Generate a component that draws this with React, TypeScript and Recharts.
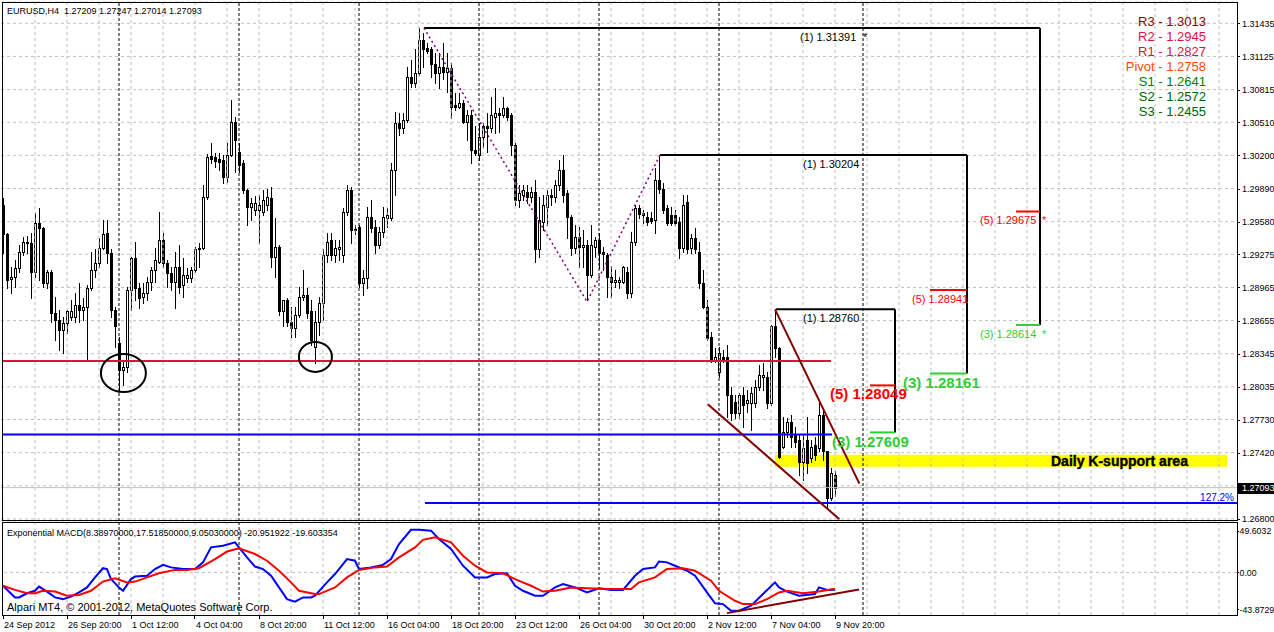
import React from "react";
import {
  ComposedChart,
  Bar,
  Line,
  XAxis,
  YAxis,
  CartesianGrid,
  ReferenceLine,
  ReferenceArea,
  ReferenceDot,
} from "recharts";

const FONT = '"Liberation Sans", Arial, Helvetica, sans-serif';

// EURUSD H4 candles, [open, high, low, close], one block per trading week
const WEEK_1 = [
  [1.2974, 1.298, 1.2929, 1.2946], [1.2946, 1.2947, 1.2896, 1.2903], [1.2904, 1.2916, 1.2891, 1.2906],
  [1.2906, 1.2922, 1.2897, 1.2915], [1.2915, 1.2936, 1.2911, 1.293], [1.293, 1.2944, 1.2927, 1.2939],
  [1.2939, 1.2945, 1.2929, 1.2938], [1.2938, 1.2947, 1.2887, 1.2911], [1.2911, 1.2966, 1.2906, 1.2957],
  [1.2957, 1.2971, 1.2903, 1.2952], [1.2952, 1.2953, 1.2897, 1.2901], [1.2901, 1.2913, 1.2896, 1.2911],
  [1.2911, 1.2913, 1.2864, 1.2873], [1.2873, 1.2888, 1.2847, 1.2866], [1.2866, 1.2875, 1.2838, 1.2857],
  [1.2857, 1.2869, 1.2835, 1.2863], [1.2863, 1.2875, 1.2854, 1.2874], [1.2869, 1.2885, 1.2866, 1.2874],
  [1.2869, 1.2891, 1.2864, 1.288], [1.288, 1.2901, 1.2864, 1.2875], [1.2875, 1.2887, 1.2866, 1.2878],
  [1.2878, 1.2899, 1.2828, 1.2896], [1.2896, 1.293, 1.2894, 1.2913], [1.2913, 1.2932, 1.2906, 1.2919],
  [1.2919, 1.2943, 1.2916, 1.2933], [1.2933, 1.296, 1.2932, 1.2946], [1.2947, 1.296, 1.2919, 1.2929],
  [1.2929, 1.2932, 1.2869, 1.2875], [1.2875, 1.2878, 1.2841, 1.286],
];
const WEEK_2 = [
  [1.2845, 1.285, 1.2801, 1.2819], [1.2819, 1.2829, 1.2805, 1.2822], [1.2822, 1.2897, 1.2817, 1.2894],
  [1.2894, 1.2925, 1.2875, 1.2924], [1.2924, 1.2939, 1.2885, 1.2896], [1.2896, 1.2901, 1.2877, 1.2887],
  [1.2888, 1.2901, 1.2882, 1.2891], [1.2891, 1.2906, 1.2885, 1.2902], [1.2902, 1.2916, 1.2894, 1.2913],
  [1.2913, 1.2933, 1.2902, 1.2922], [1.292, 1.2967, 1.2919, 1.2941], [1.2941, 1.2947, 1.2916, 1.2919],
  [1.2919, 1.2922, 1.2897, 1.291], [1.291, 1.2916, 1.2894, 1.2902], [1.2902, 1.293, 1.2877, 1.2916],
  [1.2916, 1.2936, 1.2891, 1.2897], [1.2899, 1.2924, 1.2888, 1.2908], [1.2905, 1.2915, 1.2902, 1.2908],
  [1.2905, 1.2916, 1.2902, 1.2913], [1.2913, 1.2934, 1.2911, 1.2932], [1.2932, 1.2938, 1.2916, 1.2933],
  [1.2933, 1.2992, 1.2932, 1.2981], [1.2981, 1.3021, 1.2979, 1.3018], [1.3019, 1.3032, 1.3013, 1.3017],
  [1.3018, 1.3022, 1.3009, 1.3015], [1.3017, 1.3022, 1.3006, 1.3014], [1.3016, 1.302, 1.2994, 1.3],
  [1.3, 1.3032, 1.2995, 1.302], [1.302, 1.3072, 1.3019, 1.3051], [1.3051, 1.3056, 1.3004, 1.3034],
];
const WEEK_3 = [
  [1.3023, 1.3032, 1.3004, 1.3011], [1.3013, 1.3016, 1.2985, 1.2988], [1.2988, 1.2989, 1.2955, 1.2972],
  [1.2972, 1.298, 1.296, 1.2975], [1.2969, 1.2982, 1.2964, 1.2975], [1.2969, 1.2983, 1.2938, 1.2974],
  [1.2967, 1.2988, 1.2964, 1.2978], [1.2974, 1.2989, 1.2969, 1.2981], [1.298, 1.299, 1.2916, 1.2925],
  [1.2925, 1.2961, 1.2906, 1.2934], [1.2934, 1.2936, 1.2871, 1.2874], [1.2874, 1.2885, 1.286, 1.2885],
  [1.2885, 1.2887, 1.286, 1.2864], [1.2864, 1.2878, 1.285, 1.2859], [1.2859, 1.2878, 1.285, 1.2871],
  [1.2871, 1.2897, 1.2869, 1.2888], [1.2888, 1.2913, 1.2885, 1.2889], [1.2889, 1.2896, 1.2868, 1.2873],
  [1.2874, 1.2885, 1.2843, 1.2847], [1.2841, 1.2874, 1.2826, 1.2864], [1.2864, 1.2888, 1.2852, 1.2882],
  [1.2882, 1.2932, 1.2866, 1.2927], [1.2927, 1.2947, 1.292, 1.2939], [1.2941, 1.2947, 1.2922, 1.2927],
  [1.2927, 1.2941, 1.292, 1.2933], [1.2932, 1.2941, 1.2922, 1.2934], [1.2927, 1.2971, 1.292, 1.2967],
  [1.2967, 1.2992, 1.2964, 1.2988], [1.2988, 1.299, 1.2938, 1.295], [1.2951, 1.2955, 1.2946, 1.295],
];
const WEEK_4 = [
  [1.2953, 1.2955, 1.2897, 1.2901], [1.2901, 1.2913, 1.2889, 1.2905], [1.2905, 1.2972, 1.2896, 1.2962],
  [1.2962, 1.2978, 1.2948, 1.2952], [1.2953, 1.296, 1.2929, 1.2936], [1.2936, 1.2953, 1.2933, 1.2948],
  [1.2948, 1.2972, 1.2944, 1.2962], [1.2961, 1.2971, 1.2953, 1.2964], [1.2961, 1.3013, 1.296, 1.3006],
  [1.3006, 1.3061, 1.2983, 1.305], [1.305, 1.306, 1.3039, 1.3046], [1.3046, 1.306, 1.3041, 1.3053],
  [1.3053, 1.3103, 1.3051, 1.3093], [1.3093, 1.3109, 1.3084, 1.3088], [1.3088, 1.3119, 1.3084, 1.3097],
  [1.3097, 1.3139, 1.3095, 1.3128], [1.3128, 1.3134, 1.3103, 1.3119], [1.312, 1.3125, 1.3116, 1.3118],
  [1.3119, 1.3121, 1.3093, 1.3105], [1.3105, 1.3116, 1.3088, 1.3097], [1.3097, 1.3116, 1.3083, 1.3103],
  [1.3103, 1.3125, 1.3091, 1.3098], [1.3098, 1.3116, 1.3079, 1.3102], [1.3102, 1.3106, 1.3055, 1.3065],
  [1.3067, 1.3078, 1.3062, 1.3065], [1.3065, 1.3078, 1.3064, 1.3069], [1.3069, 1.3072, 1.305, 1.3051],
  [1.3051, 1.3062, 1.3034, 1.3058], [1.3058, 1.3062, 1.3013, 1.3025], [1.3025, 1.3047, 1.302, 1.3022],
];
const WEEK_5 = [
  [1.302, 1.305, 1.3016, 1.3037], [1.3037, 1.305, 1.3028, 1.3047], [1.3047, 1.306, 1.3023, 1.3046],
  [1.3046, 1.3075, 1.3042, 1.3058], [1.3056, 1.3083, 1.3041, 1.306], [1.306, 1.3064, 1.3042, 1.3058],
  [1.3058, 1.3075, 1.3056, 1.3064], [1.3064, 1.3065, 1.3053, 1.3056], [1.3058, 1.306, 1.302, 1.303],
  [1.303, 1.3032, 1.2974, 1.2978], [1.2978, 1.2992, 1.2972, 1.2985], [1.2983, 1.2992, 1.2978, 1.2988],
  [1.2986, 1.2992, 1.2975, 1.2981], [1.2981, 1.299, 1.2976, 1.2986], [1.2986, 1.2997, 1.292, 1.2932],
  [1.2932, 1.2981, 1.2925, 1.296], [1.2958, 1.2983, 1.295, 1.2974], [1.2972, 1.2988, 1.2955, 1.2983],
  [1.2983, 1.2989, 1.2974, 1.2981], [1.2981, 1.2997, 1.2976, 1.2992], [1.2992, 1.3016, 1.2988, 1.3006],
  [1.3006, 1.302, 1.2976, 1.2983], [1.2985, 1.2988, 1.2943, 1.2962], [1.2962, 1.2964, 1.2927, 1.2933],
  [1.2933, 1.2955, 1.2929, 1.2944], [1.2944, 1.2953, 1.2916, 1.2934], [1.2934, 1.295, 1.2916, 1.2936],
  [1.2936, 1.2941, 1.2885, 1.2908], [1.2908, 1.2955, 1.2906, 1.2936], [1.2934, 1.2944, 1.2925, 1.2941],
];
const WEEK_6 = [
  [1.2941, 1.2947, 1.2915, 1.2929], [1.293, 1.2934, 1.2913, 1.2928], [1.2927, 1.2929, 1.2888, 1.2906],
  [1.2906, 1.2917, 1.2888, 1.2902], [1.2902, 1.2913, 1.2897, 1.2903], [1.2902, 1.2906, 1.2896, 1.2903],
  [1.2902, 1.2917, 1.2901, 1.2916], [1.2911, 1.2916, 1.2887, 1.2891], [1.2891, 1.2948, 1.2888, 1.2939],
  [1.2939, 1.2974, 1.2936, 1.2971], [1.2971, 1.2974, 1.2961, 1.2965], [1.2966, 1.2969, 1.2957, 1.2964],
  [1.2962, 1.2967, 1.2955, 1.2958], [1.2961, 1.2967, 1.2957, 1.2959], [1.296, 1.3008, 1.2947, 1.2997],
  [1.2997, 1.302, 1.2985, 1.2989], [1.2989, 1.2994, 1.2966, 1.2969], [1.2971, 1.2974, 1.2955, 1.2957],
  [1.2964, 1.2972, 1.2955, 1.2957], [1.2964, 1.2969, 1.2955, 1.2957], [1.2958, 1.2962, 1.2924, 1.2933],
  [1.2933, 1.2983, 1.293, 1.2974], [1.2976, 1.2983, 1.2929, 1.2932], [1.2933, 1.2946, 1.2929, 1.2943],
  [1.2943, 1.2952, 1.2929, 1.2932], [1.293, 1.2939, 1.2896, 1.2901], [1.2901, 1.2913, 1.2877, 1.2878],
  [1.2878, 1.2885, 1.2847, 1.2849], [1.285, 1.2855, 1.2827, 1.2829], [1.2829, 1.284, 1.2827, 1.2831],
];
const WEEK_7 = [
  [1.2817, 1.2841, 1.2813, 1.2835], [1.2831, 1.2838, 1.2827, 1.2829], [1.2831, 1.2843, 1.2775, 1.2796],
  [1.2796, 1.2803, 1.2773, 1.2779], [1.2789, 1.2796, 1.2774, 1.2779], [1.2779, 1.2798, 1.2774, 1.2796],
  [1.2796, 1.2803, 1.2766, 1.2787], [1.2788, 1.2801, 1.278, 1.2791], [1.2788, 1.2803, 1.2763, 1.2798],
  [1.2788, 1.281, 1.2785, 1.2803], [1.2803, 1.2824, 1.2801, 1.2815], [1.2813, 1.2826, 1.2801, 1.2815],
  [1.2813, 1.2817, 1.2784, 1.2788], [1.2788, 1.2861, 1.2787, 1.286], [1.286, 1.2876, 1.2831, 1.284],
  [1.284, 1.2841, 1.2737, 1.2738], [1.2747, 1.2775, 1.2746, 1.2761], [1.2761, 1.2774, 1.2757, 1.2771],
  [1.2771, 1.2777, 1.2747, 1.2757], [1.2759, 1.2766, 1.2747, 1.2752], [1.2754, 1.2759, 1.2721, 1.2733],
  [1.2733, 1.2759, 1.2716, 1.2746], [1.2754, 1.2775, 1.2723, 1.2732], [1.2737, 1.2754, 1.2733, 1.2747],
  [1.2749, 1.2757, 1.2735, 1.274], [1.2746, 1.2789, 1.2744, 1.2777], [1.2777, 1.2784, 1.2735, 1.2744],
  [1.2744, 1.2744, 1.269, 1.27], [1.27, 1.2728, 1.2698, 1.2723], [1.27209, 1.27247, 1.27014, 1.27093],
];
const CANDLES = [...WEEK_1, ...WEEK_2, ...WEEK_3, ...WEEK_4, ...WEEK_5, ...WEEK_6, ...WEEK_7];
const SLOTS = 309; // bar slots across the panel, the rest is empty future space

const PRICE_TICKS = [
  1.31435, 1.31125, 1.30815, 1.3051, 1.302, 1.2989, 1.2958, 1.29275, 1.28965, 1.28655, 1.28345,
  1.28035, 1.2773, 1.2742, 1.2711, 1.268,
];
const HIDDEN_TICK = 1.2711; // sits under the bid label
const BID = 1.27093;
const TITLE = "EURUSD,H4  1.27209 1.27247 1.27014 1.27093";

const TIME_TICKS = [0, 16, 32, 48, 64, 80, 96, 112, 128, 144, 160, 176, 192, 208];
const TIME_LABELS = [
  "24 Sep 2012", "26 Sep 20:00", "1 Oct 12:00", "4 Oct 04:00", "8 Oct 20:00", "11 Oct 12:00",
  "16 Oct 04:00", "18 Oct 20:00", "23 Oct 12:00", "26 Oct 04:00", "30 Oct 20:00", "2 Nov 12:00",
  "7 Nov 04:00", "9 Nov 20:00",
];
const WEEK_BREAKS = [29, 59, 89, 119, 149, 179, 215];

// horizontal support lines [from bar, to bar, price]
const RED_LEVEL = [0, 207, 1.28277];
const BLUE_LEVEL = [0, 207.25, 1.2759];
const EXT_LEVEL = [105.5, 308.5, 1.2695];
const K_AREA = [193, 306, 1.27288, 1.274];

// fibo expansions: start bar, end bar, (1), (3), (5) levels, start bar of the short ticks
const EXPANSIONS = [
  [105.25, 259.25, 1.31391, 1.28614, 1.29675, 253.25],
  [164.25, 241, 1.30204, 1.28161, 1.28941, 231.75],
  [193.25, 223, 1.2876, 1.27609, 1.28049, 216.75],
];
const ZIGZAG = [
  { i: 105.25, p: 1.31391 },
  { i: 146, p: 1.28832 },
  { i: 164.25, p: 1.30204 },
];
const WEDGE_TOP = [[193, 1.2876], [214.1, 1.2713]];
const WEDGE_BOTTOM = [[176.2, 1.27873], [209.1, 1.26797]];
const CIRCLED_LOWS = [[30.1, 1.28165], [78.1, 1.28315]];

const NOTES = [
  { i: 199.25, p: 1.31391, text: "(1) 1.31391", kind: "black" },
  { i: 215, p: 1.31391, text: "*", kind: "black" },
  { i: 200, p: 1.30204, text: "(1) 1.30204", kind: "black" },
  { i: 200, p: 1.2876, text: "(1) 1.28760", kind: "black" },
  { i: 244.25, p: 1.29675, text: "(5) 1.29675", kind: "red" },
  { i: 259.75, p: 1.29675, text: "*", kind: "red" },
  { i: 244.25, p: 1.28614, text: "(3) 1.28614", kind: "green" },
  { i: 259.75, p: 1.28614, text: "*", kind: "green" },
  { i: 227.25, p: 1.28941, text: "(5) 1.28941", kind: "red" },
  { i: 225, p: 1.28161, text: "(3) 1.28161", kind: "greenBold" },
  { i: 206.75, p: 1.28049, text: "(5) 1.28049", kind: "redBold" },
  { i: 207.25, p: 1.27609, text: "(3) 1.27609", kind: "greenBold" },
];
const NOTE_STYLE: Record<string, any> = {
  black: { fill: "#000000", size: 11, weight: 400, dy: 13 },
  red: { fill: "#ff0000", size: 11, weight: 400, dy: 12.5 },
  green: { fill: "#32cd32", size: 11, weight: 400, dy: 13 },
  redBold: { fill: "#ff0000", size: 15, weight: 700, dy: 14 },
  greenBold: { fill: "#32cd32", size: 15, weight: 700, dy: 14.5 },
};

const PIVOTS = ["R3 - 1.3013", "R2 - 1.2945", "R1 - 1.2827", "Pivot - 1.2758", "S1 - 1.2641", "S2 - 1.2572", "S3 - 1.2455"];
const PIVOT_COLORS = ["#8b0000", "#dc143c", "#dc143c", "#ff4500", "#008000", "#006400", "#006400"];

// MACD(8.3897, 17.5185, 9.0503): [bar, value]
const MACD_MAIN = [
  [0, -16], [3, -30], [4, -30], [6, -25], [8, -22], [9, -17], [11, -23], [13, -30], [15, -32], [17, -29],
  [19, -24], [21, -18], [23, -6], [25, 5], [26, 4], [27, -8], [29, -18], [30, -22], [32, -8], [33, -5],
  [36, -4], [38, 4], [40, 9], [42, 6], [45, 4], [48, 4], [50, 12], [52, 30], [55, 32], [58, 36], [59, 30],
  [61, 18], [63, 7], [65, 4], [67, -4], [69, -18], [71, -32], [73, -35], [75, -30], [77, -30], [78, -28],
  [81, -12], [83, -2], [84, 4], [86, 16], [88, 14], [89, 4], [92, 6], [95, 9], [97, 16], [99, 34],
  [102, 51], [104, 51], [107, 50], [109, 40], [112, 28], [115, 8], [118, -6], [121, -6], [123, -2],
  [126, -1], [128, -16], [130, -22], [133, -28], [135, -28], [138, -18], [140, -14], [143, -18],
  [146, -24], [149, -19], [152, -21], [155, -21], [158, -4], [160, 4], [163, 6], [164, 13], [166, 12],
  [168, 8], [171, 2], [173, -4], [176, -24], [178, -37], [180, -38], [182, -46], [184, -46], [187, -40],
  [190, -26], [193, -12], [194, -18], [196, -23], [199, -28], [203, -26], [204, -18], [206, -21],
  [208, -20.95],
];
const MACD_SIGNAL = [
  [0, -16], [3, -21], [6, -25], [8, -25], [10, -22], [13, -23], [16, -28], [19, -27], [22, -22], [25, -11],
  [28, -7], [31, -12], [33, -11], [36, -6], [39, -1], [43, 3], [46, 3], [49, 5], [53, 16], [56, 25],
  [59, 29], [63, 22], [66, 14], [69, 2], [72, -12], [74, -22], [78, -26], [79, -26], [83, -18], [86, -6],
  [89, 3], [93, 6], [96, 7], [99, 18], [103, 30], [105, 39], [108, 42], [112, 36], [115, 20], [118, 8],
  [121, 0], [125, -1], [128, -8], [132, -16], [135, -23], [138, -22], [142, -18], [146, -19], [151, -20],
  [157, -20], [159, -12], [163, -6], [166, 4], [170, 5], [173, 2], [177, -10], [179, -22], [183, -34],
  [185, -38], [188, -38], [191, -32], [194, -24], [196, -22], [200, -25], [204, -23], [208, -19.6],
];
const MACD_TREND = [[181, -48.8], [214, -20.5]];
const MACD_TICKS = [49.6032, 0, -43.8729];
const MACD_TICK_LABELS = ["49.6032", "0.00", "-43.8729"];
const MACD_TITLE = "Exponential MACD(8.38970000,17.51850000,9.05030000) -20.951922 -19.603354";

const PRICE_DOMAIN = [1.26781, 1.31634];
const MACD_DOMAIN = [-51.06, 59.19];
const X_DOMAIN = [-0.5, SLOTS - 0.5];
const GRID_BARS = Array.from({ length: 38 }, (_, k) => 8 * (k + 1));

const rows = Array.from({ length: SLOTS }, (_, i) => {
  const k = CANDLES[i];
  return k ? { i, o: k[0], h: k[1], l: k[2], c: k[3], range: [k[2], k[1]] } : { i };
});
const mainRows = MACD_MAIN.map(([i, v]) => ({ i, v }));
const signalRows = MACD_SIGNAL.map(([i, v]) => ({ i, v }));

const Candle = (props: any) => {
  const { x, y, width, height, payload } = props;
  if (!payload || payload.o == null || !Number.isFinite(y) || !Number.isFinite(x)) return null;
  const { o, h, l, c } = payload;
  const top = Math.min(y, y + height);
  const span = Math.abs(height);
  const toY = (v: number) => (h === l ? top : top + ((h - v) / (h - l)) * span);
  const cx = Math.floor(x + width / 2);
  const yo = Math.round(toY(o));
  const yc = Math.round(toY(c));
  const bTop = Math.min(yo, yc);
  const bBot = Math.max(yo, yc);
  return (
    <g>
      <line x1={cx + 0.5} x2={cx + 0.5} y1={Math.round(top)} y2={Math.round(top + span) + 1} stroke="#000" />
      {c >= o ? (
        <rect x={cx - 0.5} y={bTop + 0.5} width={2} height={Math.max(bBot - bTop, 1)} fill="#fff" stroke="#000" />
      ) : (
        <rect x={cx - 1} y={bTop} width={3} height={bBot - bTop + 1} fill="#000" />
      )}
    </g>
  );
};

const PriceTick = (props: any) => {
  const { x, y, payload } = props;
  if (payload.value === HIDDEN_TICK) return null;
  const yy = Math.round(y) + 0.5;
  return (
    <g>
      <line x1={x} x2={x + 3} y1={yy} y2={yy} stroke="#000" />
      <text x={x + 5} y={y + 3.5} fontSize={9} fontFamily={FONT} fill="#000">
        {payload.value.toFixed(5)}
      </text>
    </g>
  );
};

const MacdTick = (props: any) => {
  const { x, y, payload } = props;
  const idx = MACD_TICKS.indexOf(payload.value);
  const yy = Math.round(y) + 0.5;
  return (
    <g>
      <line x1={x} x2={x + 2} y1={yy} y2={yy} stroke="#000" />
      <text x={x + 2.5} y={y + 3.5} fontSize={8.8} fontFamily={FONT} fill="#000">
        {MACD_TICK_LABELS[idx]}
      </text>
    </g>
  );
};

const TimeTick = (props: any) => {
  const { x, y, payload } = props;
  const idx = TIME_TICKS.indexOf(payload.value);
  const xx = Math.floor(x) + 0.5;
  return (
    <g>
      <line x1={xx} x2={xx} y1={y} y2={y + 4} stroke="#000" />
      <text x={x + 1} y={y + 13} fontSize={9} fontFamily={FONT} fill="#000">
        {TIME_LABELS[idx]}
      </text>
    </g>
  );
};

const App = () => {
  const ax = { xAxisId: "n", yAxisId: "p" };
  return (
    <div style={{ position: "fixed", left: 0, top: 0, width: 1274, height: 632, background: "#fff", overflow: "hidden" }}>
      <div style={{ position: "absolute", left: 0, top: 0 }}>
        <ComposedChart width={1274} height={530} data={rows} margin={{ top: 2, right: 0, bottom: 9, left: 1 }}>
          <XAxis xAxisId="c" dataKey="i" type="category" hide />
          <XAxis xAxisId="n" dataKey="i" type="number" domain={X_DOMAIN} allowDataOverflow hide />
          <YAxis
            yAxisId="p"
            orientation="right"
            width={37}
            type="number"
            domain={PRICE_DOMAIN}
            allowDataOverflow
            ticks={PRICE_TICKS}
            interval={0}
            axisLine={false}
            tickLine={false}
            tickSize={0}
            tickMargin={0}
            tick={(p: any) => <PriceTick {...p} />}
          />
          <CartesianGrid xAxisId="n" yAxisId="p" vertical={false} stroke="#c0c0c0" strokeDasharray="3 3" />
          {GRID_BARS.map((b) => (
            <ReferenceLine key={"g" + b} {...ax} x={b} stroke="#c0c0c0" strokeDasharray="3 3" />
          ))}
          <ReferenceArea {...ax} x1={K_AREA[0]} x2={K_AREA[1]} y1={K_AREA[2]} y2={K_AREA[3]} fill="#ffff00" fillOpacity={1} stroke="none" />
          {WEEK_BREAKS.map((b) => (
            <ReferenceLine key={"w" + b} {...ax} x={b} stroke="#000" strokeDasharray="3 2" />
          ))}
          <ReferenceLine {...ax} y={BID} stroke="#c0c0c0" />
          <ReferenceLine {...ax} ifOverflow="visible" segment={[{ x: RED_LEVEL[0], y: RED_LEVEL[2] }, { x: RED_LEVEL[1], y: RED_LEVEL[2] }]} stroke="#dc143c" strokeWidth={2} />
          <ReferenceLine {...ax} ifOverflow="visible" segment={[{ x: BLUE_LEVEL[0], y: BLUE_LEVEL[2] }, { x: BLUE_LEVEL[1], y: BLUE_LEVEL[2] }]} stroke="#0000ff" strokeWidth={2} />
          <ReferenceLine {...ax} ifOverflow="visible" segment={[{ x: EXT_LEVEL[0], y: EXT_LEVEL[2] }, { x: EXT_LEVEL[1], y: EXT_LEVEL[2] }]} stroke="#0000ff" strokeWidth={2} />
          {EXPANSIONS.map(([a, b, one, three, five, t], k) => (
            <React.Fragment key={"e" + k}>
              <ReferenceLine {...ax} ifOverflow="visible" segment={[{ x: a, y: one }, { x: b, y: one }]} stroke="#000" strokeWidth={2} />
              <ReferenceLine {...ax} ifOverflow="visible" segment={[{ x: b, y: one }, { x: b, y: three }]} stroke="#000" strokeWidth={2} />
              <ReferenceLine {...ax} ifOverflow="visible" segment={[{ x: t, y: three }, { x: b, y: three }]} stroke="#32cd32" strokeWidth={2} />
              <ReferenceLine {...ax} ifOverflow="visible" segment={[{ x: t, y: five }, { x: b, y: five }]} stroke="#ff0000" strokeWidth={2} />
            </React.Fragment>
          ))}
          <Line {...ax} data={ZIGZAG} dataKey="p" stroke="#800080" strokeWidth={1.5} strokeDasharray="2 3" dot={false} isAnimationActive={false} />
          <Bar xAxisId="c" yAxisId="p" dataKey="range" barSize={3} isAnimationActive={false} shape={(p: any) => <Candle {...p} />} />
          {[WEDGE_TOP, WEDGE_BOTTOM].map((w, k) => (
            <ReferenceLine key={"t" + k} {...ax} ifOverflow="visible" segment={[{ x: w[0][0], y: w[0][1] }, { x: w[1][0], y: w[1][1] }]} stroke="#800000" strokeWidth={2} />
          ))}
          {CIRCLED_LOWS.map(([i, p], k) => (
            <ReferenceDot
              key={"c" + k}
              {...ax}
              x={i}
              y={p}
              r={0}
              ifOverflow="visible"
              shape={(s: any) => (
                <ellipse cx={s.cx} cy={s.cy} rx={k === 0 ? 22.5 : 16.5} ry={k === 0 ? 19 : 15} fill="none" stroke="#000" strokeWidth={2} />
              )}
            />
          ))}
          {NOTES.map((n, k) => {
            const st = NOTE_STYLE[n.kind];
            return (
              <ReferenceDot
                key={"n" + k}
                {...ax}
                x={n.i}
                y={n.p}
                r={0}
                ifOverflow="visible"
                shape={(s: any) => (
                  <text x={s.cx} y={s.cy + st.dy} fontSize={st.size} fontWeight={st.weight} fontFamily={FONT} fill={st.fill}>
                    {n.text}
                  </text>
                )}
              />
            );
          })}
          <ReferenceDot
            {...ax}
            x={262}
            y={(K_AREA[2] + K_AREA[3]) / 2}
            r={0}
            ifOverflow="visible"
            shape={(s: any) => (
              <text x={s.cx} y={s.cy + 5} fontSize={14} fontWeight={900} fontFamily={FONT} fill="#000" stroke="#000" strokeWidth={0.4}>
                Daily K-support area
              </text>
            )}
          />
          <ReferenceDot
            {...ax}
            x={307.75}
            y={EXT_LEVEL[2]}
            r={0}
            ifOverflow="visible"
            shape={(s: any) => (
              <text x={s.cx} y={s.cy - 2} fontSize={10} fontFamily={FONT} fill="#0000ff" textAnchor="end">
                127.2%
              </text>
            )}
          />
          <ReferenceDot
            {...ax}
            x={X_DOMAIN[1]}
            y={BID}
            r={0}
            ifOverflow="visible"
            shape={(s: any) => (
              <g>
                <rect x={s.cx} y={Math.round(s.cy) - 5} width={40} height={11} fill="#000" />
                <text x={s.cx + 5} y={s.cy + 3.5} fontSize={9} fontFamily={FONT} fill="#fff">
                  {BID.toFixed(5)}
                </text>
              </g>
            )}
          />
        </ComposedChart>
      </div>

      <div style={{ position: "absolute", left: 0, top: 522 }}>
        <ComposedChart width={1274} height={110} data={mainRows} margin={{ top: 1, right: 0, bottom: 0, left: 1 }}>
          <XAxis
            xAxisId="n"
            dataKey="i"
            type="number"
            domain={X_DOMAIN}
            allowDataOverflow
            ticks={TIME_TICKS}
            interval={0}
            height={17}
            axisLine={false}
            tickLine={false}
            tickSize={0}
            tickMargin={0}
            tick={(p: any) => <TimeTick {...p} />}
          />
          <YAxis
            yAxisId="m"
            orientation="right"
            width={37}
            type="number"
            domain={MACD_DOMAIN}
            allowDataOverflow
            ticks={MACD_TICKS}
            interval={0}
            axisLine={false}
            tickLine={false}
            tickSize={0}
            tickMargin={0}
            tick={(p: any) => <MacdTick {...p} />}
          />
          {GRID_BARS.map((b) => (
            <ReferenceLine key={"mg" + b} xAxisId="n" yAxisId="m" x={b} stroke="#c0c0c0" strokeDasharray="3 3" />
          ))}
          {WEEK_BREAKS.map((b) => (
            <ReferenceLine key={"mw" + b} xAxisId="n" yAxisId="m" x={b} stroke="#000" strokeDasharray="3 2" />
          ))}
          <ReferenceLine xAxisId="n" yAxisId="m" y={0} stroke="#c0c0c0" strokeDasharray="3 3" />
          <Line xAxisId="n" yAxisId="m" data={mainRows} dataKey="v" stroke="#0000ff" strokeWidth={2} dot={false} isAnimationActive={false} />
          <Line xAxisId="n" yAxisId="m" data={signalRows} dataKey="v" stroke="#ff0000" strokeWidth={2} dot={false} isAnimationActive={false} />
          <ReferenceLine
            xAxisId="n"
            yAxisId="m"
            ifOverflow="visible"
            segment={[{ x: MACD_TREND[0][0], y: MACD_TREND[0][1] }, { x: MACD_TREND[1][0], y: MACD_TREND[1][1] }]}
            stroke="#800000"
            strokeWidth={2}
          />
        </ComposedChart>
      </div>

      <svg width={1274} height={632} style={{ position: "absolute", left: 0, top: 0, pointerEvents: "none" }}>
        <rect x={2.5} y={2.5} width={1235} height={518} fill="none" stroke="#000" />
        <rect x={2.5} y={522.5} width={1235} height={93} fill="none" stroke="#000" />
        <text x={7} y={14} fontSize={9} fontFamily={FONT} fill="#000" xmlSpace="preserve" style={{ whiteSpace: "pre" }}>
          {TITLE}
        </text>
        {PIVOTS.map((t, k) => (
          <text key={t} x={1206} y={26 + k * 15} fontSize={13} fontFamily={FONT} fill={PIVOT_COLORS[k]} textAnchor="end">
            {t}
          </text>
        ))}
        <text x={7} y={536} fontSize={9} fontFamily={FONT} fill="#000">
          {MACD_TITLE}
        </text>
        <text x={7} y={611} fontSize={11} fontFamily={FONT} fill="#000">
          Alpari MT4, © 2001-2012, MetaQuotes Software Corp.
        </text>
      </svg>
    </div>
  );
};

export default App;
